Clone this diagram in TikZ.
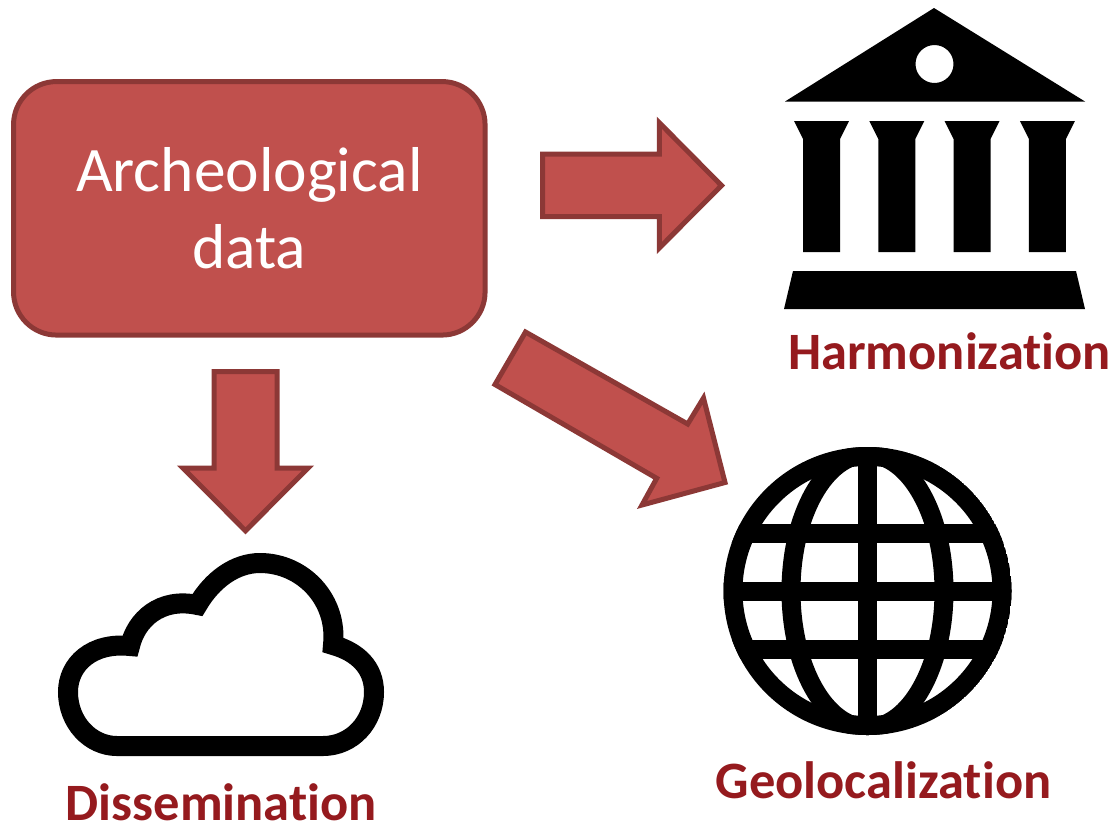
\documentclass[tikz,border=0pt]{standalone}
\usepackage{fontspec}
\setmainfont{Carlito}[Ligatures=NoCommon]
\definecolor{boxfill}{HTML}{C0504D}
\definecolor{boxedge}{HTML}{8C3836}
\definecolor{labelred}{HTML}{951A1E}
\tikzset{
  blockarrow/.style={fill=boxfill,draw=boxedge,line width=5pt,miter limit=10},
  maintext/.style={text=white,font=\fontsize{63.4}{76.5}\selectfont,align=center},
  caption/.style={text=labelred,font=\bfseries\fontsize{52.5}{60}\selectfont,inner sep=0pt,anchor=base},
  icon/.style={fill=black,draw=none}
}
\begin{document}
\begin{tikzpicture}[x=1pt,y=-1pt]
\useasboundingbox (0,0) rectangle (1115,823);
% main box
\node[draw=boxedge,fill=boxfill,line width=5pt,rounded corners=43pt,minimum width=471.5pt,minimum height=253.5pt,inner sep=0pt,maintext] (arch) at (249.3,208.3) {Archeological\\data};
% arrows
\draw[blockarrow] (542.5,154) -- (659.3,154) -- (659.3,122.7) -- (721.5,185.5) -- (659.3,248) -- (659.3,216.7) -- (542.5,216.7) -- cycle;
\draw[blockarrow] (214,371.5) -- (277,371.5) -- (277,468) -- (308,468) -- (245.5,530.8) -- (183,468) -- (214,468) -- cycle;
\draw[blockarrow] (525.5,332) -- (687.7,424) -- (703.5,398) -- (725,482.5) -- (642,505) -- (656.7,478.3) -- (495,384.5) -- cycle;
% temple
\fill[icon,even odd rule] (934,8) -- (1085,101.5) -- (785,101.5) -- cycle (934.5,64) circle[radius=19pt];
\foreach \dx in {0,75.3,150.6,225.9}{
  \fill[icon,shift={(\dx,0)}] (794,121) -- (849,121) -- (840,139) -- (840,252) -- (803,252) -- (803,139) -- cycle;
}
\fill[icon] (793,271) -- (1076,271) -- (1085,309) -- (784,309) -- cycle;
\node[caption] (harm) at (949.6,369.3) {Harmonization};
% globe
\begin{scope}
\clip (867.5,591) circle[radius=144pt];
\draw[line width=19pt] (867.5,591) circle[radius=134.5pt];
\draw[line width=19pt] (867.5,591) ellipse[x radius=76.5pt,y radius=137pt];
\draw[line width=19pt] (867.5,440) -- (867.5,740);
\draw[line width=19pt] (720,533.5) -- (1015,533.5);
\draw[line width=19pt] (720,591.5) -- (1015,591.5);
\draw[line width=19pt] (720,649.5) -- (1015,649.5);
\end{scope}
\node[caption] (geo) at (883.5,798) {Geolocalization};
% cloud
\draw[line width=20pt,miter limit=10,line join=miter]
  (117,746) .. controls (90,746) and (68,722) .. (68,692)
  .. controls (68,664) and (92,642) .. (130,646)
  .. controls (136,620) and (160,597) .. (197.5,605)
  .. controls (212,580) and (235,563) .. (260,563)
  .. controls (303,563) and (338,600) .. (333,645)
  .. controls (358,652) and (374,668) .. (374,692)
  .. controls (374,722) and (352,746) .. (323,746)
  -- cycle;
\node[caption] (diss) at (221.3,820) {Dissemination};
\end{tikzpicture}
\end{document}
